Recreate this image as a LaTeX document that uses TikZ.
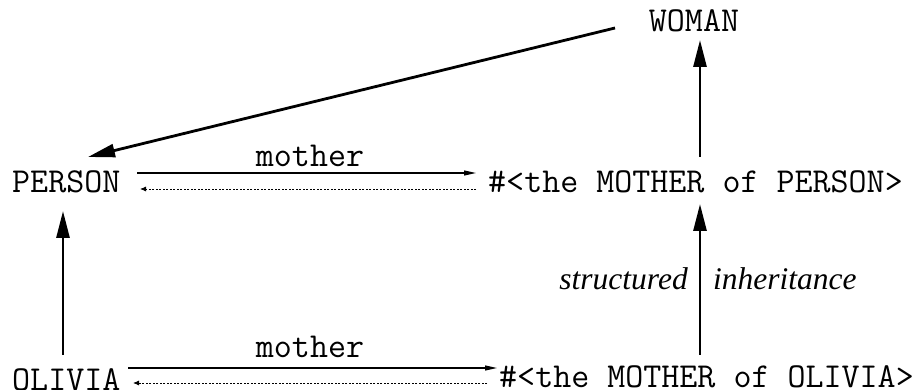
\documentclass[tikz,border=0pt]{standalone}
\usepackage{fontspec}
\setmainfont{Liberation Serif}
\usetikzlibrary{arrows.meta}
\begin{document}
\begin{tikzpicture}[x=1pt,y=-1pt,
  lbl/.style={font=\ttfamily\fontsize{35}{36}\selectfont, inner sep=0pt},
  ital/.style={font=\itshape\fontsize{31.5}{33}\selectfont, inner sep=0pt},
  isa/.style={line width=2.8pt, -{Triangle[length=27pt,width=13pt]}},
  rel/.style={line width=1.1pt, -{Triangle[length=12pt,width=5pt]}},
  inv/.style={line width=0.8pt, dash pattern=on 2pt off 1.5pt, -{Latex[length=6pt,width=5pt]}}]
\useasboundingbox (0,0) rectangle (922,390);
\node[lbl, anchor=base] (woman) at (694,32) {WOMAN};
\node[lbl, anchor=base west] (person) at (12,193) {PERSON};
\node[lbl, anchor=base west] (mp) at (488,193) {\#<the MOTHER of PERSON>};
\node[lbl, anchor=base west] (olivia) at (12,391) {OLIVIA};
\node[lbl, anchor=base west] (mo) at (499,388) {\#<the MOTHER of OLIVIA>};
\node[lbl, anchor=base] (m1) at (310,167) {mother};
\node[lbl, anchor=base] (m2) at (310,358) {mother};
\node[ital, anchor=base east] (st) at (688,290) {structured};
\node[ital, anchor=base west] (inh) at (713,290) {inheritance};
% free ends
\coordinate (p1a) at (137,173); \coordinate (p1b) at (476,173);
\coordinate (p2a) at (476,189); \coordinate (p2b) at (140,189);
\coordinate (o1a) at (128,368); \coordinate (o1b) at (497,368);
\coordinate (o2a) at (487,383); \coordinate (o2b) at (133,383);
\coordinate (ov) at (63,355); \coordinate (pv) at (63,211);
\coordinate (mov) at (700,355); \coordinate (mpv) at (700,204);
\coordinate (mpu) at (700,157); \coordinate (wv) at (700,40);
\coordinate (ws) at (615,28); \coordinate (pt) at (88,157);
\draw[rel] (p1a) -- (p1b);
\draw[inv] (p2a) -- (p2b);
\draw[rel] (o1a) -- (o1b);
\draw[inv] (o2a) -- (o2b);
\draw[isa] (ov) -- (pv);
\draw[isa] (mov) -- (mpv);
\draw[isa] (mpu) -- (wv);
\draw[isa] (ws) -- (pt);
\end{tikzpicture}
\end{document}
